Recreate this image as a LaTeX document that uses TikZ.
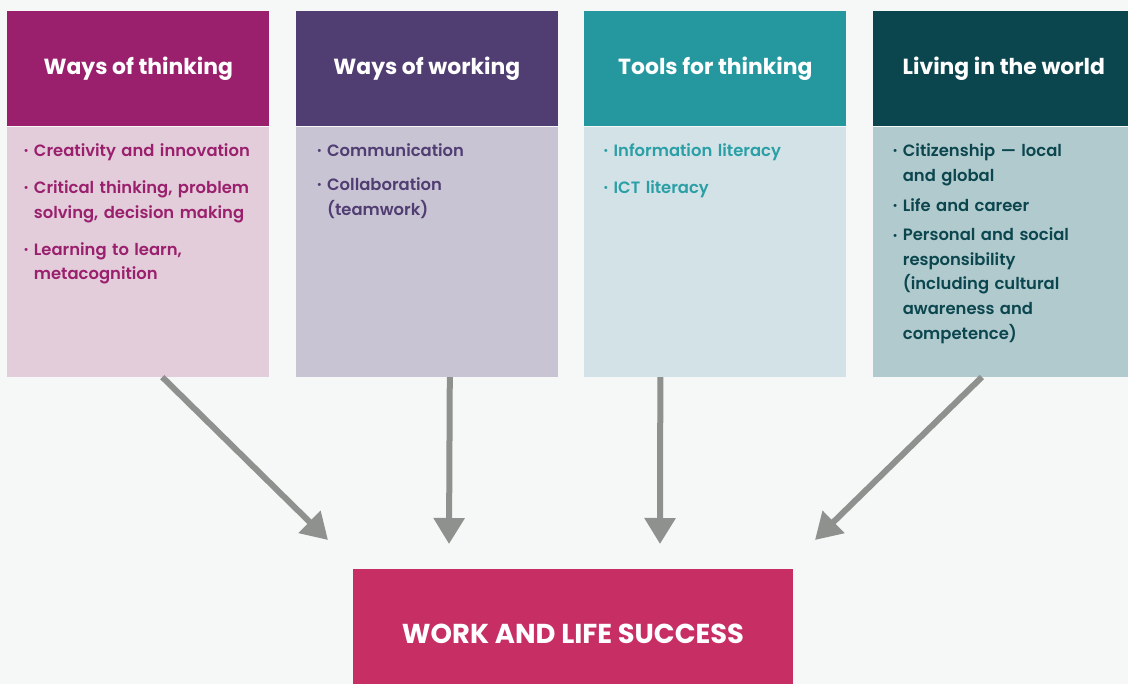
\documentclass[tikz,border=0pt]{standalone}
\usepackage{fontspec}
\setmainfont{Poppins}[UprightFont=* SemiBold, BoldFont=* Bold]
\usepackage{xcolor}
\definecolor{thinkdark}{HTML}{9A206E}
\definecolor{thinklight}{HTML}{E3CDDA}
\definecolor{workdark}{HTML}{503D72}
\definecolor{worklight}{HTML}{C9C4D4}
\definecolor{tooldark}{HTML}{25979F}
\definecolor{tooltext}{HTML}{2A9FA6}
\definecolor{toollight}{HTML}{D2E2E7}
\definecolor{livedark}{HTML}{0B464F}
\definecolor{livelight}{HTML}{B1CACD}
\definecolor{successred}{HTML}{C72E64}
\definecolor{arrowgray}{HTML}{8F918F}
\definecolor{bgfill}{HTML}{F6F7F7}
\usetikzlibrary{positioning}
\usetikzlibrary{arrows.meta}
\newcommand{\dotmark}{\raisebox{1.3pt}{\fontsize{8}{8}\selectfont\textbullet}}
\newcommand{\bul}[1]{\par\hangindent=6.5pt\hangafter=1\noindent\makebox[6.5pt][l]{\hspace{-1.2pt}\dotmark}\strut#1\par}
\tikzset{
    head/.style={anchor=north west, inner sep=0, minimum width=196.5pt, minimum height=86.25pt,
        text=white, font=\bfseries\fontsize{16.4}{19}\selectfont},
    body/.style={inner sep=0, minimum width=196.5pt, minimum height=187.5pt},
    items/.style={inner sep=0, align=left, text width=190pt, font=\fontsize{12.3}{18.4}\selectfont,
        execute at begin node={\setlength{\parskip}{#1}\vspace*{-#1}}},
    flow/.style={arrowgray, line width=4.5pt, -{Triangle[length=19.5pt, width=22.5pt]}},
    goal/.style={inner sep=0, minimum width=330pt, minimum height=97.5pt, fill=successred,
        text=white, font=\bfseries\fontsize{20.5}{24}\selectfont}
}
\begin{document}
\begin{tikzpicture}[x=0.75pt, y=-0.75pt]
    \useasboundingbox (0,0) rectangle (1128,684);
    \clip (0,0) rectangle (1128,684);
    \fill[bgfill] (0,0) rectangle (1128,684);

    % the four headers
    \node[head, fill=thinkdark] (wt) at (7,11) {Ways of thinking};
    \node[head, fill=workdark, right=19.5pt of wt] (ww) {Ways of working};
    \node[head, fill=tooldark, right=19.5pt of ww] (tt) {Tools for thinking};
    \node[head, fill=livedark, right=19.5pt of tt] (lw) {Living in the world};

    % bodies
    \node[body, fill=thinklight, below=0pt of wt] (wtb) {};
    \node[body, fill=worklight, below=0pt of ww] (wwb) {};
    \node[body, fill=toollight, below=0pt of tt] (ttb) {};
    \node[body, fill=livelight, below=0pt of lw] (lwb) {};

    \node[items=9.4pt, text=thinkdark, below right=4pt and 13.5pt of wtb.north west] (wti) {%
        \bul{Creativity and innovation}
        \bul{Critical thinking, problem\newline solving, decision making}
        \bul{Learning to learn,\newline metacognition}};
    \node[items=7pt, text=workdark, below right=4pt and 17pt of wwb.north west] (wwi) {%
        \bul{Communication}
        \bul{Collaboration\newline (teamwork)}};
    \node[items=9.4pt, text=tooltext, below right=4pt and 15.5pt of ttb.north west] (tti) {%
        \bul{Information literacy}
        \bul{ICT literacy}};
    \node[items=4pt, text=livedark, below right=4pt and 16pt of lwb.north west] (lwi) {%
        \bul{Citizenship — local\newline and global}
        \bul{Life and career}
        \bul{Personal and social\newline responsibility\newline (including cultural\newline awareness and\newline competence)}};

    % goal
    \node[goal] (succ) at (573,634) {WORK AND LIFE SUCCESS};

    \coordinate (t1) at (328,540);
    \coordinate (t2) at (449,544);
    \coordinate (t3) at (660,544);
    \coordinate (t4) at (815,540);

    \draw[flow] ([xshift=18pt]wtb.south) -- (t1);
    \draw[flow] ([xshift=17.25pt]wwb.south) -- (t2);
    \draw[flow] ([xshift=-41.25pt]ttb.south) -- (t3);
    \draw[flow] ([xshift=-16.5pt]lwb.south) -- (t4);
\end{tikzpicture}
\end{document}
